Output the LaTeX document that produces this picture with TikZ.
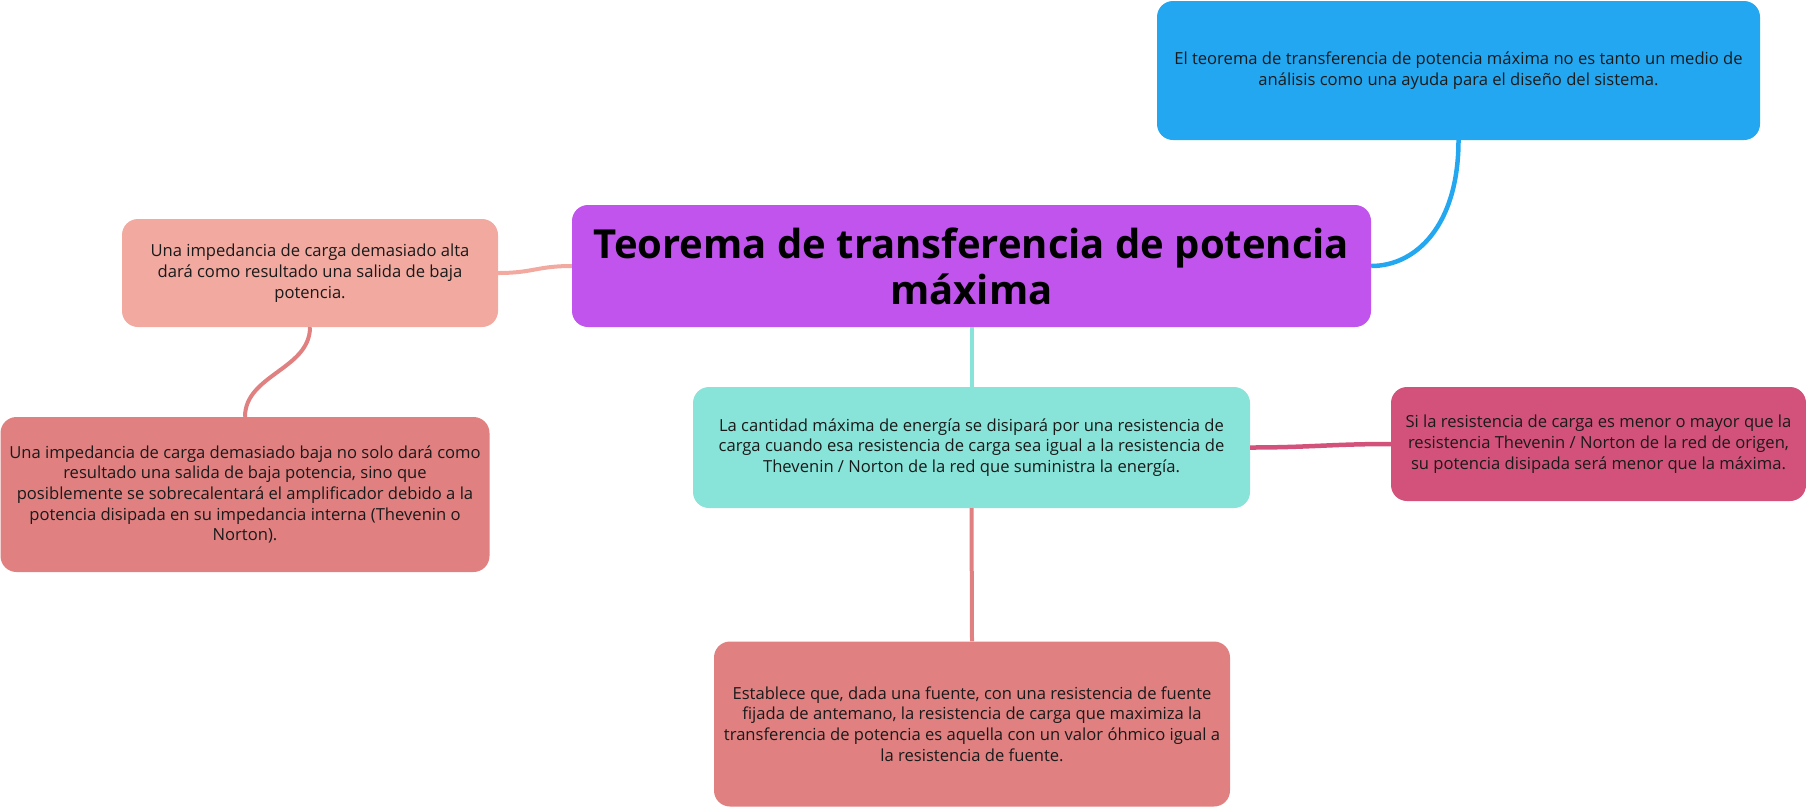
\documentclass[tikz,border=0pt]{standalone}
\usepackage{fontspec}
\setmainfont{Open Sans}
\usepackage{xcolor}
\usepackage{tikz}
\usetikzlibrary{positioning,calc}
\definecolor{ideablue}{RGB}{35,167,240}
\definecolor{topicpurple}{RGB}{192,84,236}
\definecolor{altapink}{RGB}{241,169,160}
\definecolor{bajared}{RGB}{224,128,128}
\definecolor{energiateal}{RGB}{136,227,216}
\definecolor{menormagenta}{RGB}{211,82,124}
\definecolor{textdark}{RGB}{26,26,26}

\tikzset{
    idea/.style={rounded corners=16pt, inner sep=0pt, align=center, text=textdark,
        font=\fontsize{16.6}{20.7}\selectfont},
    branch/.style={line width=4.5pt}
}

\begin{document}
\begin{tikzpicture}[x=1pt, y=-1pt]
    % Canvas - pixel units, y grows downwards
    \useasboundingbox (0,0) rectangle (1806,807);

    % Central topic
    \node[idea, fill=topicpurple, text=black, minimum width=799pt, minimum height=122pt,
        font=\fontsize{40}{46}\bfseries\selectfont] (topic) at (971.5,266)
        {Teorema de transferencia de potencia\\ máxima};

    % Design note (top right)
    \node[idea, fill=ideablue, minimum width=603pt, minimum height=139pt] (diseno) at (1458.5,70.5)
        {El teorema de transferencia de potencia máxima no es tanto un medio de\\
         análisis como una ayuda para el diseño del sistema.};

    % High load impedance
    \node[idea, fill=altapink, minimum width=376pt, minimum height=108pt] (alta) at (310,273)
        {Una impedancia de carga demasiado alta\\
         dará como resultado una salida de baja\\
         potencia.};

    % Low load impedance
    \node[idea, fill=bajared, minimum width=489pt, minimum height=155pt] (baja) at (245,494.5)
        {Una impedancia de carga demasiado baja no solo dará como\\
         resultado una salida de baja potencia, sino que\\
         posiblemente se sobrecalentará el amplificador debido a la\\
         potencia disipada en su impedancia interna (Thevenin o\\
         Norton).};

    % Maximum energy
    \node[idea, fill=energiateal, minimum width=557pt, minimum height=121pt] (energia) at (971.5,447.5)
        {La cantidad máxima de energía se disipará por una resistencia de\\
         carga cuando esa resistencia de carga sea igual a la resistencia de\\
         Thevenin / Norton de la red que suministra la energía.};

    % Smaller or larger load
    \node[idea, fill=menormagenta, minimum width=415pt, minimum height=114pt] (menor) at (1598.5,444)
        {Si la resistencia de carga es menor o mayor que la\\
         resistencia Thevenin / Norton de la red de origen,\\
         su potencia disipada será menor que la máxima.};

    % Statement
    \node[idea, fill=bajared, minimum width=516pt, minimum height=165pt] (enunciado) at (972,724)
        {Establece que, dada una fuente, con una resistencia de fuente\\
         fijada de antemano, la resistencia de carga que maximiza la\\
         transferencia de potencia es aquella con un valor óhmico igual a\\
         la resistencia de fuente.};

    % Branches
    \draw[branch, ideablue] (diseno.south) .. controls +(0,85) and +(45,0) .. (topic.east);
    \draw[branch, altapink, line width=4pt] (alta.east) .. controls +(35,0) and +(-35,0) .. (topic.west);
    \draw[branch, bajared, line width=4pt] (alta.south) .. controls +(0,42) and +(0,-42) .. (baja.north);
    \draw[branch, energiateal, line width=4pt] (topic.south) -- (energia.north);
    \draw[branch, menormagenta] (energia.east) .. controls +(60,0) and +(-60,0) .. (menor.west);
    \draw[branch, bajared, line width=4pt] (energia.south) -- (enunciado.north);
\end{tikzpicture}
\end{document}
